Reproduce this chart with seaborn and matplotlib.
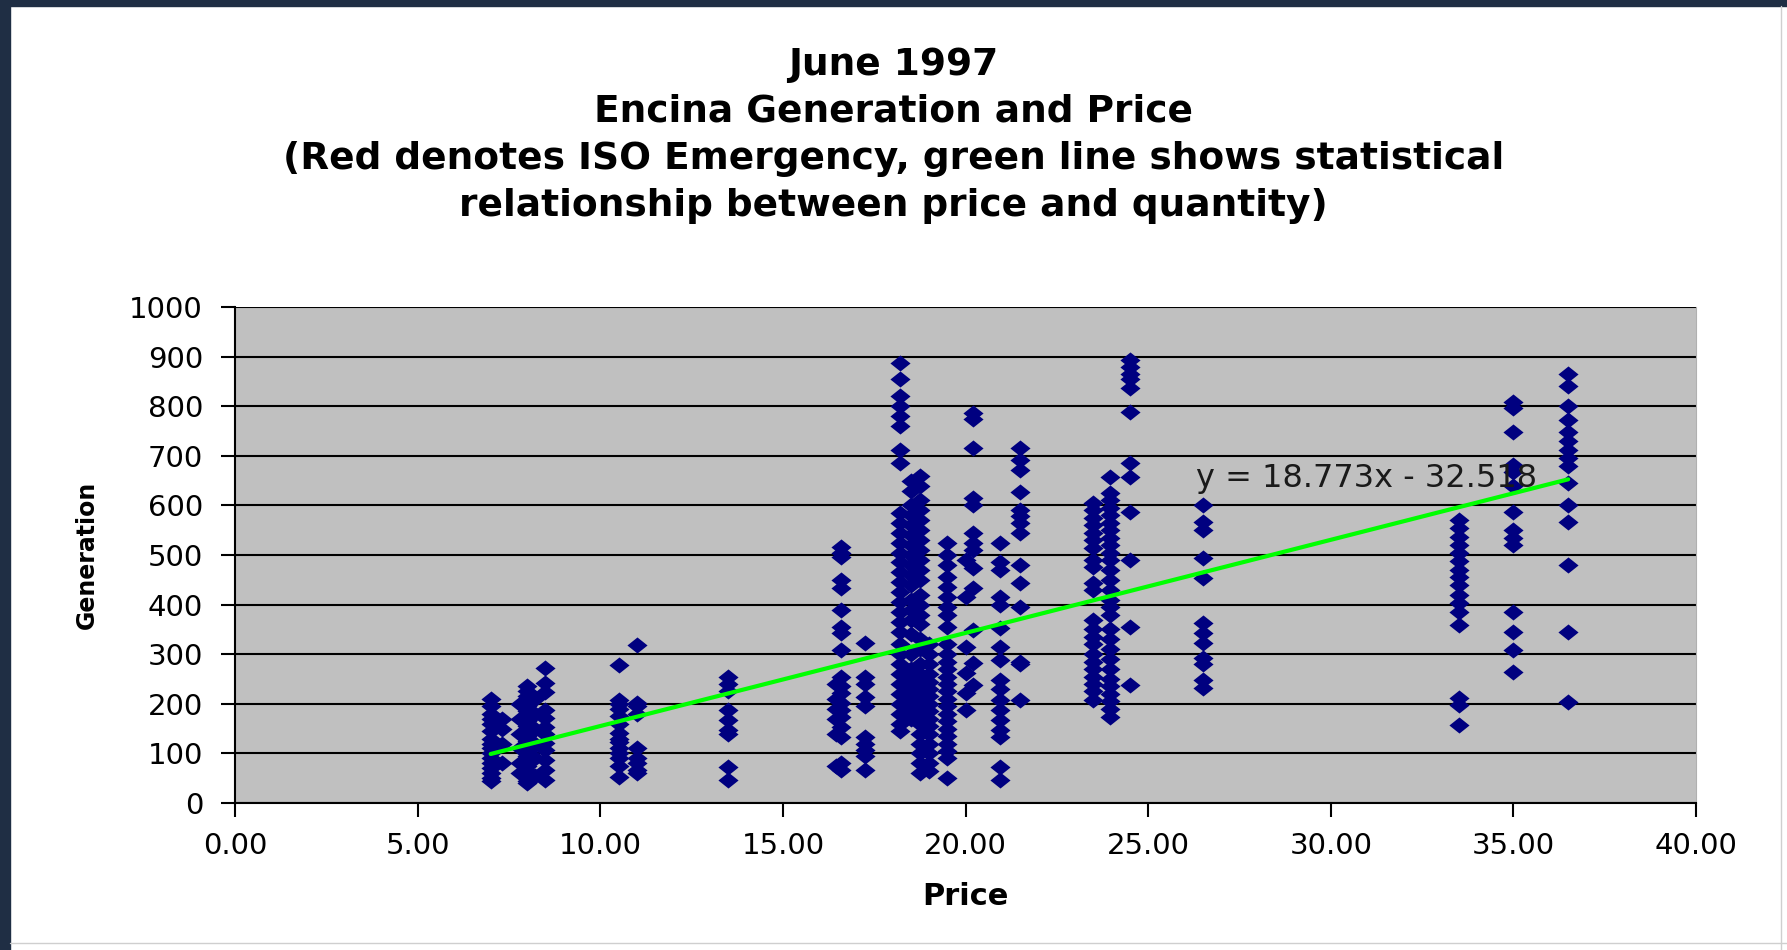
import numpy as np
import pandas as pd
import seaborn as sns
import matplotlib.pyplot as plt
from matplotlib.patches import Rectangle
from matplotlib.lines import Line2D

# ---DATA-----------------------------------------------------------------------
# generation values, one list per price level ($/MWh)
gen_7_0 = [210, 195, 180, 170, 160, 145, 130, 120, 110, 100, 90, 80, 70, 60, 50, 45]
gen_7_3 = [170, 150, 120, 80]
gen_7_8 = [200, 170, 140, 110, 80, 60]
gen_8_0 = [235, 225, 215, 205, 195, 185, 175, 165, 155, 145, 135, 125, 115, 105,
           95, 85, 75, 65, 55, 45, 40]
gen_8_2 = [210, 180, 150, 120, 90, 55]
gen_8_5 = [272, 242, 224, 188, 171, 154, 140, 121, 107, 87, 67, 46]
gen_10_5 = [278, 208, 200, 190, 175, 160, 141, 130, 123, 110, 100, 90, 75, 53]
gen_11_0 = [319, 201, 195, 180, 110, 90, 80, 67, 60]
gen_13_5 = [255, 240, 225, 188, 168, 147, 140, 73, 46]
gen_16_45 = [240, 210, 190, 170, 140, 75]
gen_16_6 = [517, 505, 497, 450, 434, 390, 355, 343, 309, 255, 235, 222, 202, 188,
            174, 154, 133, 81, 67]
gen_17_25 = [322, 255, 240, 214, 195, 133, 120, 107, 94, 67]
gen_18_2 = [888, 854, 820, 800, 780, 760, 712, 686, 585, 565, 545, 525, 505, 485,
            465, 445, 425, 405, 385, 365, 345, 320, 300, 280, 260, 240, 220, 200,
            180, 160, 145]
gen_18_5 = [650, 630, 600, 580, 560, 540, 520, 500, 480, 460, 440, 410, 390, 370,
            340, 300, 270, 250, 230, 210, 190, 170]
gen_18_75 = [660, 640, 610, 590, 570, 550, 530, 510, 490, 470, 450, 420, 400, 380,
             360, 330, 310, 280, 260, 240, 220, 200, 180, 160, 140, 120, 100, 80, 60]
gen_19_0 = [320, 300, 280, 260, 245, 230, 215, 200, 185, 170, 155, 140, 120, 100,
            80, 65]
gen_19_5 = [525, 500, 480, 455, 435, 415, 395, 380, 355, 320, 300, 285, 270, 255,
            240, 225, 210, 195, 180, 165, 150, 135, 120, 105, 90, 50]
gen_20_0 = [490, 416, 315, 262, 222, 188]
gen_20_2 = [787, 775, 716, 615, 601, 545, 524, 510, 474, 434, 349, 282, 238]
gen_20_95 = [524, 486, 470, 416, 400, 352, 315, 288, 248, 230, 208, 188, 168, 147,
             133, 73, 46]
gen_21_5 = [716, 692, 672, 628, 591, 578, 565, 545, 480, 444, 396, 285, 280, 208]
gen_23_5 = [605, 590, 575, 560, 545, 530, 515, 490, 476, 444, 430, 369, 350, 335,
            320, 300, 285, 270, 255, 240, 225, 208]
gen_23_95 = [658, 625, 610, 595, 580, 565, 550, 535, 520, 505, 490, 470, 450, 430,
             410, 395, 380, 350, 330, 310, 290, 270, 250, 235, 220, 205, 190, 174]
gen_24_5 = [894, 880, 866, 854, 837, 789, 686, 658, 587, 490, 355, 238]
gen_26_5 = [601, 567, 551, 494, 454, 363, 343, 322, 292, 280, 248, 232]
gen_33_5 = [571, 555, 537, 520, 504, 487, 470, 455, 440, 420, 403, 385, 359, 212,
            198, 157]
gen_35_0 = [809, 797, 749, 682, 668, 640, 587, 551, 535, 521, 385, 345, 309, 265]
gen_36_5 = [864, 840, 800, 773, 749, 730, 712, 696, 679, 645, 601, 567, 480, 345, 204]

# trendline shown on the chart
slope = 18.773
intercept = -32.518

title_lines = ["June 1997",
               "Encina Generation and Price",
               "(Red denotes ISO Emergency, green line shows statistical",
               "relationship between price and quantity)"]
x_ticks = [0, 5, 10, 15, 20, 25, 30, 35, 40]
y_ticks = [0, 100, 200, 300, 400, 500, 600, 700, 800, 900, 1000]

columns = {7.0: gen_7_0, 7.3: gen_7_3, 7.8: gen_7_8, 8.0: gen_8_0, 8.2: gen_8_2,
           8.5: gen_8_5, 10.5: gen_10_5, 11.0: gen_11_0, 13.5: gen_13_5,
           16.45: gen_16_45, 16.6: gen_16_6, 17.25: gen_17_25, 18.2: gen_18_2,
           18.5: gen_18_5, 18.75: gen_18_75, 19.0: gen_19_0, 19.5: gen_19_5,
           20.0: gen_20_0, 20.2: gen_20_2, 20.95: gen_20_95, 21.5: gen_21_5,
           23.5: gen_23_5, 23.95: gen_23_95, 24.5: gen_24_5, 26.5: gen_26_5,
           33.5: gen_33_5, 35.0: gen_35_0, 36.5: gen_36_5}
df = pd.DataFrame([(p, g) for p, gens in columns.items() for g in gens],
                  columns=["Price", "Generation"])

# ---PLOT-----------------------------------------------------------------------
sns.set_style("white")
plt.rcParams["font.family"] = ["DejaVu Sans"]
plt.rcParams["text.color"] = "black"

fig = plt.figure(figsize=(17.87, 9.5), dpi=100)
fig.patch.set_facecolor("white")
# dark slide background peeking in on the left and top, light frame on the right/bottom
fig.add_artist(Rectangle((0, 0), 10 / 1787, 1, transform=fig.transFigure,
                         color="#1f2e44", zorder=0))
fig.add_artist(Rectangle((0, 1 - 6 / 950), 1, 6 / 950, transform=fig.transFigure,
                         color="#1f2e44", zorder=0))
fig.add_artist(Line2D([1781 / 1787] * 2, [0, 1 - 6 / 950], transform=fig.transFigure,
                      color="#cfcfcf", lw=1))
fig.add_artist(Line2D([10 / 1787, 1], [1 - 943 / 950] * 2, transform=fig.transFigure,
                      color="#cfcfcf", lw=1))

ax = fig.add_axes([0.1315, 0.1547, 0.8176, 0.5221])
ax.set_facecolor("#c0c0c0")

diamond = [(-1, 0), (0, 0.8), (1, 0), (0, -0.8), (-1, 0)]
sns.scatterplot(data=df, x="Price", y="Generation", marker=diamond, s=210,
                color="#000080", linewidth=0, ax=ax, zorder=3)

x_fit = np.array([df["Price"].min(), df["Price"].max()])
sns.lineplot(x=x_fit, y=slope * x_fit + intercept, color="#00ff00", lw=3,
             ax=ax, zorder=4)
ax.text(26.3, 654, f"y = {slope}x - {abs(intercept)}", fontsize=23,
        va="center", ha="left", color="#1a1a1a", zorder=5)

ax.set_xlim(0, 40)
ax.set_ylim(0, 1000)
ax.set_xticks(x_ticks)
ax.set_xticklabels([f"{t:.2f}" for t in x_ticks])
ax.set_yticks(y_ticks)
ax.yaxis.grid(True, color="black", lw=1.5)
ax.set_axisbelow(True)
ax.tick_params(axis="both", direction="out", length=10, width=1.5, color="black",
               labelsize=21, labelcolor="black", bottom=True, left=True)
ax.tick_params(axis="x", pad=11)
ax.tick_params(axis="y", pad=13)
for side in ["left", "bottom"]:
    ax.spines[side].set_color("black")
    ax.spines[side].set_linewidth(1.5)
ax.spines["top"].set_visible(False)
ax.spines["right"].set_color("#b0b0b0")

ax.set_xlabel("Price", fontsize=22, fontweight="bold", labelpad=16, color="black")
ax.set_ylabel("Generation", fontsize=17, fontweight="bold", labelpad=22, color="black")

for i, line in enumerate(title_lines):
    fig.text(0.5, 1 - (65 + 47 * i) / 950, line, ha="center", va="center",
             fontsize=27, fontweight="bold", color="black")

plt.savefig("out.png", dpi=100, facecolor=fig.get_facecolor())
